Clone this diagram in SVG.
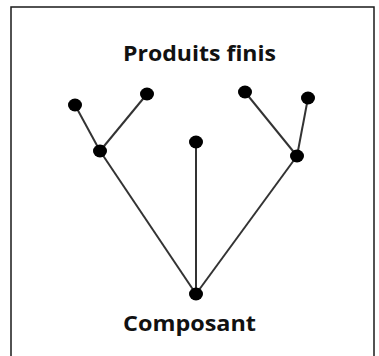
<svg xmlns="http://www.w3.org/2000/svg" width="379" height="356" viewBox="0 0 379 356">
  <style>
    .frame { fill: #ffffff; stroke: #1a1a1a; stroke-width: 1.5; }
    .edge { stroke: #333333; stroke-width: 2; fill: none; }
    .dot { fill: #000000; }
    .label { font-family: "Open Sans", "Liberation Sans", sans-serif; font-weight: bold; font-size: 22px; fill: #111111; }
  </style>
  <rect class="frame" x="11" y="7" width="363" height="360"/>
  <text class="label" x="123" y="61" textLength="153" lengthAdjust="spacingAndGlyphs">Produits finis</text>
  <text class="label" x="123" y="331" textLength="133" lengthAdjust="spacingAndGlyphs">Composant</text>
  <g id="connectors">
    <line class="edge" x1="75" y1="105" x2="100" y2="151"/>
    <line class="edge" x1="147" y1="94" x2="100" y2="151"/>
    <line class="edge" x1="100" y1="151" x2="196" y2="294"/>
    <line class="edge" x1="196" y1="142" x2="196" y2="294"/>
    <line class="edge" x1="245" y1="92" x2="297" y2="156"/>
    <line class="edge" x1="308" y1="98" x2="297" y2="156"/>
    <line class="edge" x1="297" y1="156" x2="196" y2="294"/>
  </g>
  <g id="n1"><ellipse class="dot" cx="75" cy="105" rx="7" ry="6.5"/></g>
  <g id="n2"><ellipse class="dot" cx="147" cy="94" rx="7" ry="6.5"/></g>
  <g id="n3"><ellipse class="dot" cx="100" cy="151" rx="7" ry="6.5"/></g>
  <g id="n4"><ellipse class="dot" cx="196" cy="142" rx="7" ry="6.5"/></g>
  <g id="n5"><ellipse class="dot" cx="245" cy="92" rx="7" ry="6.5"/></g>
  <g id="n6"><ellipse class="dot" cx="308" cy="98" rx="7" ry="6.5"/></g>
  <g id="n7"><ellipse class="dot" cx="297" cy="156" rx="7" ry="6.5"/></g>
  <g id="n8"><ellipse class="dot" cx="196" cy="294" rx="7" ry="6.5"/></g>
</svg>
